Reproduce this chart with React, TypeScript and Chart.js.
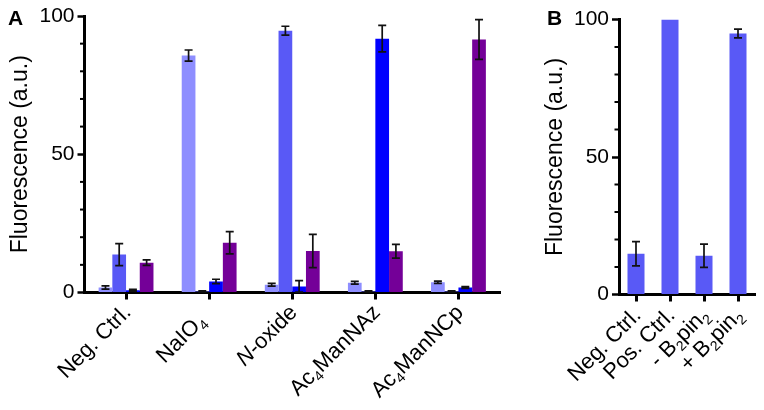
import { useEffect, useRef } from 'react';
import { Chart, registerables } from 'chart.js';

Chart.register(...registerables);

const FONT = '"Liberation Sans", Arial, Helvetica, sans-serif';
Chart.defaults.font.family = FONT;
Chart.defaults.color = '#000';

// ---------- Panel A data ----------
const categoriesA = ['Neg. Ctrl.', 'NaIO_4  ', '*N*-oxide', 'Ac_4ManNAz', 'Ac_4ManNCp'];
const seriesNamesA = ['Series 1', 'Series 2', 'Series 3', 'Series 4'];
const series1 = [1.8, 85.7, 2.8, 3.5, 3.7];
const series1Err = [0.6, 2.0, 0.5, 0.5, 0.4];
const series2 = [13.7, 0.4, 94.7, 0.4, 0.4];
const series2Err = [4.0, 0.2, 1.6, 0.2, 0.2];
const series3 = [0.8, 4.0, 2.2, 91.8, 1.8];
const series3Err = [0.3, 0.8, 2.1, 4.8, 0.3];
const series4 = [10.8, 18.0, 15.0, 14.9, 91.5];
const series4Err = [1.0, 4.0, 6.0, 2.5, 7.2];
const colorsA = ['#8E8EFF', '#5959F6', '#0000FF', '#740098'];

// ---------- Panel B data ----------
const categoriesB = ['Neg. Ctrl.', 'Pos. Ctrl.', '- B_2pin_2', '+ B_2pin_2'];
const valuesB = [14.8, 100, 14.1, 94.9];
const errorsB = [4.4, 0, 4.2, 1.6];
const colorB = '#5959F6';

// ---------- Axis ----------
const yMin = 0;
const yMax = 100;
const yMajorStep = 50;
const yMinorTicks = [10, 20, 30, 40, 60, 70, 80, 90];
const yTitle = 'Fluorescence (a.u.)';

type Seg = { text: string; italic: boolean; sub: boolean };

function parseLabel(s: string): Seg[] {
  const segs: Seg[] = [];
  let italic = false;
  let i = 0;
  while (i < s.length) {
    const c = s[i];
    if (c === '*') {
      italic = !italic;
      i++;
      continue;
    }
    if (c === '_') {
      segs.push({ text: s[i + 1], italic, sub: true });
      i += 2;
      continue;
    }
    const last = segs[segs.length - 1];
    if (last && !last.sub && last.italic === italic) last.text += c;
    else segs.push({ text: c, italic, sub: false });
    i++;
  }
  return segs;
}

function plainLabel(s: string) {
  return s.replace(/[*_]/g, '').trim();
}

function segFont(seg: Seg, size: number) {
  return `${seg.italic ? 'italic ' : ''}${seg.sub ? Math.round(size * 0.62) : size}px ${FONT}`;
}

function makeLabelPlugin(cats: string[], size: number, dx: number, dy: number) {
  return {
    id: 'richLabels',
    afterDraw(chart: any) {
      const ctx = chart.ctx as CanvasRenderingContext2D;
      const xs = chart.scales.x;
      ctx.save();
      ctx.fillStyle = '#000';
      ctx.textBaseline = 'alphabetic';
      ctx.textAlign = 'left';
      cats.forEach((c, i) => {
        const segs = parseLabel(c);
        const widths = segs.map((seg) => {
          ctx.font = segFont(seg, size);
          return ctx.measureText(seg.text).width;
        });
        const total = widths.reduce((a, b) => a + b, 0);
        const x = xs.getPixelForValue(i);
        const y = xs.top;
        ctx.save();
        ctx.translate(x + dx, y + dy);
        ctx.rotate(-Math.PI / 4);
        let cx = -total;
        segs.forEach((seg, k) => {
          ctx.font = segFont(seg, size);
          ctx.fillText(seg.text, cx, seg.sub ? size * 0.22 : 0);
          cx += widths[k];
        });
        ctx.restore();
      });
      ctx.restore();
    },
  };
}

const errorBarPlugin = {
  id: 'errorBars',
  afterDatasetsDraw(chart: any) {
    const ctx = chart.ctx as CanvasRenderingContext2D;
    const ys = chart.scales.y;
    ctx.save();
    ctx.strokeStyle = '#111';
    ctx.lineWidth = 1.7;
    chart.data.datasets.forEach((ds: any, d: number) => {
      const meta = chart.getDatasetMeta(d);
      meta.data.forEach((el: any, i: number) => {
        const e = ds.errors[i];
        if (!e) return;
        const v = ds.data[i];
        const top = ys.getPixelForValue(v + e);
        const bot = ys.getPixelForValue(Math.max(v - e, 0));
        const x = el.x;
        const cap = 4;
        ctx.beginPath();
        ctx.moveTo(x, top);
        ctx.lineTo(x, bot);
        ctx.moveTo(x - cap, top);
        ctx.lineTo(x + cap, top);
        ctx.moveTo(x - cap, bot);
        ctx.lineTo(x + cap, bot);
        ctx.stroke();
      });
    });
    ctx.restore();
  },
};

const minorTickPlugin = {
  id: 'minorTicks',
  afterDraw(chart: any) {
    const ctx = chart.ctx as CanvasRenderingContext2D;
    const ys = chart.scales.y;
    const left = chart.chartArea.left;
    ctx.save();
    ctx.strokeStyle = '#000';
    ctx.lineWidth = 2;
    yMinorTicks.forEach((v) => {
      const py = ys.getPixelForValue(v);
      ctx.beginPath();
      ctx.moveTo(left, py);
      ctx.lineTo(left - 4.5, py);
      ctx.stroke();
    });
    ctx.restore();
  },
};

function makeLetterPlugin(letter: string, x: number, y: number) {
  return {
    id: 'panelLetter',
    afterDraw(chart: any) {
      const ctx = chart.ctx as CanvasRenderingContext2D;
      ctx.save();
      ctx.fillStyle = '#000';
      ctx.font = `bold 21px ${FONT}`;
      ctx.textBaseline = 'alphabetic';
      ctx.textAlign = 'left';
      ctx.fillText(letter, x, y);
      ctx.restore();
    },
  };
}

function scaleOptions(yWidth: number, xHeight: number) {
  return {
    x: {
      type: 'category',
      offset: true,
      z: 1,
      grid: {
        display: true,
        drawOnChartArea: false,
        offset: false,
        tickLength: 7,
        tickWidth: 3,
        tickColor: '#000',
      },
      border: { display: true, width: 3, color: '#000' },
      ticks: { display: false },
      afterFit: (s: any) => {
        s.height = xHeight;
      },
    },
    y: {
      min: yMin,
      max: yMax,
      z: 1,
      ticks: {
        stepSize: yMajorStep,
        color: '#000',
        font: { size: 21, family: FONT },
        padding: 3,
      },
      grid: {
        drawOnChartArea: false,
        tickLength: 7,
        tickWidth: 2.5,
        tickColor: '#000',
      },
      border: { display: true, width: 3, color: '#000' },
      title: {
        display: true,
        text: yTitle,
        color: '#000',
        font: { size: 23, family: FONT },
        padding: { top: 7, bottom: 0 },
      },
      afterFit: (s: any) => {
        s.width = yWidth;
      },
    },
  };
}

function PanelA() {
  const ref = useRef<HTMLCanvasElement>(null);
  useEffect(() => {
    if (!ref.current) return;
    const values = [series1, series2, series3, series4];
    const errs = [series1Err, series2Err, series3Err, series4Err];
    const chart = new Chart(ref.current, {
      type: 'bar',
      data: {
        labels: categoriesA.map(plainLabel),
        datasets: values.map((v, k) => ({
          label: seriesNamesA[k],
          data: v,
          errors: errs[k],
          backgroundColor: colorsA[k],
          borderWidth: 0,
          barPercentage: 1,
          categoryPercentage: 0.66,
        })) as any,
      },
      options: {
        responsive: false,
        animation: false,
        layout: { padding: { top: 16, right: 10, left: 0, bottom: 0 } },
        plugins: { legend: { display: false }, tooltip: { enabled: false } },
        scales: scaleOptions(84.5, 117.5) as any,
      },
      plugins: [errorBarPlugin, minorTickPlugin, makeLabelPlugin(categoriesA, 22, 6, 21), makeLetterPlugin('A', 8, 25)],
    });
    return () => chart.destroy();
  }, []);
  return <canvas ref={ref} width={510} height={410} />;
}

function PanelB() {
  const ref = useRef<HTMLCanvasElement>(null);
  useEffect(() => {
    if (!ref.current) return;
    const chart = new Chart(ref.current, {
      type: 'bar',
      data: {
        labels: categoriesB.map(plainLabel),
        datasets: [
          {
            label: 'Fluorescence',
            data: valuesB,
            errors: errorsB,
            backgroundColor: colorB,
            borderWidth: 0,
            barPercentage: 1,
            categoryPercentage: 0.5,
          } as any,
        ],
      },
      options: {
        responsive: false,
        animation: false,
        layout: { padding: { top: 19.5, right: 9, left: 0, bottom: 0 } },
        plugins: { legend: { display: false }, tooltip: { enabled: false } },
        scales: scaleOptions(84, 115.5) as any,
      },
      plugins: [errorBarPlugin, minorTickPlugin, makeLabelPlugin(categoriesB, 22, 6, 22), makeLetterPlugin('B', 12, 25)],
    });
    return () => chart.destroy();
  }, []);
  return <canvas ref={ref} width={229} height={410} />;
}

export default function App() {
  return (
    <div style={{ position: 'absolute', left: 0, top: 0, width: 764, height: 410, background: '#fff' }}>
      <div style={{ position: 'absolute', left: 0, top: 0, width: 510, height: 410 }}>
        <PanelA />
      </div>
      <div style={{ position: 'absolute', left: 535, top: 0, width: 229, height: 410 }}>
        <PanelB />
      </div>
    </div>
  );
}
